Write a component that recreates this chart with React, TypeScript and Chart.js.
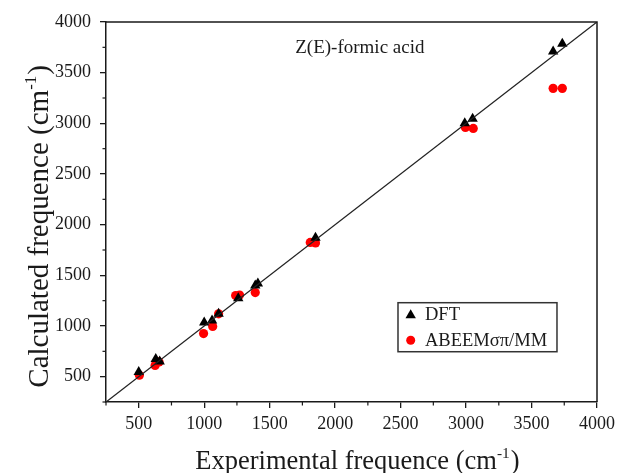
import React, { useEffect, useRef } from 'react';
import { Chart, registerables } from 'chart.js';

Chart.register(...registerables);

// Experimental (x) vs calculated (y) frequencies, cm^-1
const dftExp = [500, 630, 660, 1000, 1060, 1110, 1260, 1390, 1410, 1850, 2990, 3050, 3665, 3735];
const dftCalc = [545, 675, 650, 1035, 1055, 1120, 1275, 1400, 1420, 1870, 3000, 3045, 3710, 3785];
const abeemExp = [505, 625, 655, 995, 1065, 1110, 1240, 1270, 1390, 1810, 1850, 2995, 3055, 3665, 3735];
const abeemCalc = [515, 610, 645, 925, 995, 1120, 1300, 1305, 1330, 1825, 1820, 2960, 2950, 3345, 3345];
const refLineX = [250, 4000];
const refLineY = [250, 4000];

const seriesLabels = ['DFT', 'ABEEMσπ/MM'];
const chartTitle = 'Z(E)-formic acid';
const xTitleMain = 'Experimental frequence (cm';
const yTitleMain = 'Calculated frequence (cm';
const unitSup = '-1';
const unitClose = ')';
const axisMin = 250;
const axisMax = 4000;
const minorStep = 250;
const majorStep = 500;

const SERIF = '"Liberation Serif", "Times New Roman", serif';
const INK = '#1a1a1a';

function drawTriangle(ctx: CanvasRenderingContext2D, x: number, y: number, r: number) {
  ctx.beginPath();
  ctx.moveTo(x, y - r);
  ctx.lineTo(x + Math.sin((2 * Math.PI) / 3) * r, y + 0.5 * r);
  ctx.lineTo(x - Math.sin((2 * Math.PI) / 3) * r, y + 0.5 * r);
  ctx.closePath();
  ctx.fill();
}

// draws "main" + superscript + ")" with baseline at y=0, centered horizontally on x=0
function drawUnitTitle(ctx: CanvasRenderingContext2D, main: string, size: number) {
  const supSize = size * 0.58;
  ctx.font = `${size}px ${SERIF}`;
  const wMain = ctx.measureText(main).width;
  const wClose = ctx.measureText(unitClose).width;
  ctx.font = `${supSize}px ${SERIF}`;
  const wSup = ctx.measureText(unitSup).width;
  const total = wMain + wSup + wClose + 1;
  let x = -total / 2;
  ctx.textAlign = 'left';
  ctx.textBaseline = 'alphabetic';
  ctx.font = `${size}px ${SERIF}`;
  ctx.fillText(main, x, 0);
  x += wMain;
  ctx.font = `${supSize}px ${SERIF}`;
  ctx.fillText(unitSup, x, -size * 0.42);
  x += wSup + 1;
  ctx.font = `${size}px ${SERIF}`;
  ctx.fillText(unitClose, x, 0);
}

const framePlugin = {
  id: 'frame',
  afterDraw(chart: any) {
    const { ctx, chartArea: a, scales } = chart;
    ctx.save();
    // top & right border
    ctx.strokeStyle = INK;
    ctx.lineWidth = 1.5;
    ctx.beginPath();
    ctx.moveTo(a.left, a.top);
    ctx.lineTo(a.right, a.top);
    ctx.lineTo(a.right, a.bottom);
    ctx.stroke();
    // minor ticks
    ctx.lineWidth = 1.2;
    const xs = scales.x, ys = scales.y;
    xs.ticks.forEach((t: any) => {
      if (t.value % majorStep !== 0) {
        const p = xs.getPixelForValue(t.value);
        ctx.beginPath();
        ctx.moveTo(p, a.bottom);
        ctx.lineTo(p, a.bottom + 3.5);
        ctx.stroke();
      }
    });
    ys.ticks.forEach((t: any) => {
      if (t.value % majorStep !== 0) {
        const p = ys.getPixelForValue(t.value);
        ctx.beginPath();
        ctx.moveTo(a.left, p);
        ctx.lineTo(a.left - 3.5, p);
        ctx.stroke();
      }
    });
    const w = a.right - a.left, h = a.bottom - a.top;
    // axis titles
    ctx.fillStyle = INK;
    ctx.save();
    ctx.translate(a.left + 0.512 * w, chart.height - 4);
    drawUnitTitle(ctx, xTitleMain, 26.5);
    ctx.restore();
    ctx.save();
    ctx.translate(a.left - 58, a.top + 0.538 * h);
    ctx.rotate(-Math.PI / 2);
    drawUnitTitle(ctx, yTitleMain, 29);
    ctx.restore();
    // title
    ctx.font = `19px ${SERIF}`;
    ctx.textAlign = 'center';
    ctx.textBaseline = 'alphabetic';
    ctx.fillText(chartTitle, a.left + 0.517 * w, a.top + 0.082 * h);
    // legend
    const bx = a.left + 0.5947 * w;
    const by = a.top + 0.7387 * h;
    const bw = 0.3238 * w;
    const bh = 0.129 * h;
    ctx.lineWidth = 1.5;
    ctx.strokeStyle = '#333';
    ctx.strokeRect(bx, by, bw, bh);
    ctx.textAlign = 'left';
    ctx.textBaseline = 'middle';
    ctx.font = `18.5px ${SERIF}`;
    const r1 = by + 0.235 * bh;
    const r2 = by + 0.765 * bh;
    ctx.fillStyle = '#000';
    drawTriangle(ctx, bx + 12.7, r1 + 1, 6);
    ctx.fillStyle = INK;
    ctx.fillText(seriesLabels[0], bx + 27, r1 + 1);
    ctx.fillStyle = '#ff0000';
    ctx.beginPath();
    ctx.arc(bx + 12.7, r2, 4.5, 0, Math.PI * 2);
    ctx.fill();
    ctx.fillStyle = INK;
    ctx.fillText(seriesLabels[1], bx + 27, r2 + 1);
    ctx.restore();
  },
};

export default function App() {
  const ref = useRef<HTMLCanvasElement | null>(null);
  useEffect(() => {
    document.body.style.margin = '0';
    const canvas = ref.current;
    if (!canvas) return;
    const tickColor = (c: any) => (c.tick && c.tick.value % majorStep === 0 ? INK : 'rgba(0,0,0,0)');
    const chart = new Chart(canvas, {
      type: 'scatter',
      data: {
        datasets: [
          {
            type: 'line',
            label: 'ref',
            data: refLineX.map((x, i) => ({ x, y: refLineY[i] })),
            borderColor: '#222',
            borderWidth: 1.3,
            pointRadius: 0,
            fill: false,
            order: 0,
          } as any,
          {
            label: seriesLabels[0],
            data: dftExp.map((x, i) => ({ x, y: dftCalc[i] })),
            pointStyle: 'triangle',
            pointRadius: 6,
            backgroundColor: '#000',
            borderColor: '#000',
            borderWidth: 0,
            order: 1,
          },
          {
            label: seriesLabels[1],
            data: abeemExp.map((x, i) => ({ x, y: abeemCalc[i] })),
            pointStyle: 'circle',
            pointRadius: 4.6,
            backgroundColor: '#ff0000',
            borderColor: '#ff0000',
            borderWidth: 0,
            order: 2,
          },
        ],
      },
      options: {
        responsive: false,
        animation: false,
        devicePixelRatio: 1,
        layout: { padding: { top: 22, right: 36, left: 0, bottom: 0 } },
        plugins: { legend: { display: false }, tooltip: { enabled: false }, title: { display: false } },
        scales: {
          x: {
            type: 'linear',
            min: axisMin,
            max: axisMax,
            afterFit: (s: any) => { s.height = 71; },
            ticks: {
              stepSize: minorStep,
              autoSkip: false,
              maxRotation: 0,
              padding: 5,
              color: INK,
              font: { family: SERIF, size: 18 },
              callback: (v: any) => (Number(v) % majorStep === 0 ? String(v) : ''),
            },
            grid: { drawOnChartArea: false, drawTicks: true, tickLength: 6, color: tickColor, lineWidth: 1.3 },
            border: { display: true, color: INK, width: 1.5 },
            title: { display: false },
          },
          y: {
            type: 'linear',
            min: axisMin,
            max: axisMax,
            afterFit: (s: any) => { s.width = 106; },
            ticks: {
              stepSize: minorStep,
              autoSkip: false,
              padding: 9,
              color: INK,
              font: { family: SERIF, size: 18 },
              callback: (v: any) => (Number(v) % majorStep === 0 ? String(v) : ''),
            },
            grid: { drawOnChartArea: false, drawTicks: true, tickLength: 6, color: tickColor, lineWidth: 1.3 },
            border: { display: true, color: INK, width: 1.5 },
            title: { display: false },
          },
        },
      },
      plugins: [framePlugin],
    });
    return () => chart.destroy();
  }, []);
  return (
    <div style={{ width: 633, height: 473 }}>
      <canvas ref={ref} width={633} height={473} style={{ display: 'block' }} />
    </div>
  );
}
